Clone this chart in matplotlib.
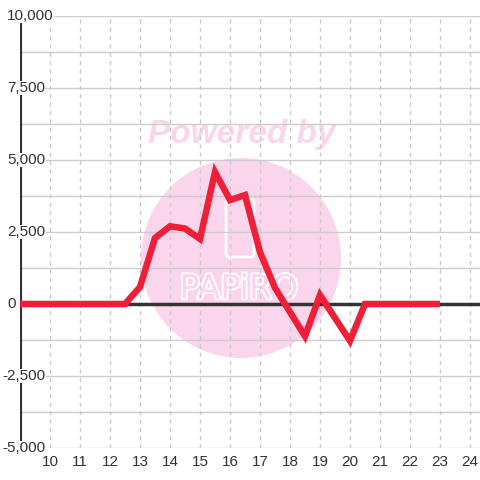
import matplotlib
matplotlib.use("Agg")
import matplotlib.pyplot as plt
from matplotlib.patches import Circle, FancyBboxPatch
import matplotlib.patheffects as pe

plt.rcParams['font.family'] = ['Liberation Sans', 'DejaVu Sans']

# Data
hours = [9, 12.5, 13, 13.5, 14, 14.5, 15, 15.5, 16, 16.5, 17, 17.5, 18.5, 19, 20, 20.5, 23]
values = [0, 0, 590, 2290, 2700, 2620, 2260, 4580, 3610, 3780, 1800, 560, -1120, 310, -1280, 0, 0]

x_ticks = list(range(10, 25))
y_ticks = [-5000, -2500, 0, 2500, 5000, 7500, 10000]
y_grid = [-3750, -1250, 1250, 3750, 6250, 8750]

line_color = '#EE1F36'
pink = '#FBD5EC'
text_color = '#333333'

fig = plt.figure(figsize=(4.8, 4.8), dpi=100)
ax = fig.add_axes([20 / 480, 32 / 480, 460 / 480, 432 / 480])
ax.set_xlim(9, 9 + 460 / 30)
ax.set_ylim(-5000, 10000)
for s in ax.spines.values():
    s.set_visible(False)

# Watermark (behind the grid)
ax.add_patch(Circle((241 / 480, 1 - 258 / 480), 100 / 480, transform=fig.transFigure,
                    facecolor=pink, edgecolor='none', zorder=0.2, clip_on=False))
ax.add_patch(FancyBboxPatch((226 / 480, 1 - 257 / 480), 28 / 480, 58 / 480,
                            boxstyle='round,pad=0,rounding_size=0.008',
                            transform=fig.transFigure, facecolor='none',
                            edgecolor='white', linewidth=2, zorder=0.3, clip_on=False))
ax.text(239 / 480, 1 - 289 / 480, 'PAPiRO', color=pink, fontsize=24, ha='center', va='center',
        family='DejaVu Sans', transform=fig.transFigure, zorder=0.3,
        path_effects=[pe.Stroke(linewidth=2.5, foreground='white'), pe.Normal()])
ax.text(242 / 480, 1 - 134 / 480, 'Powered by', color=pink, fontsize=24, ha='center',
        va='center', fontweight='bold', fontstyle='italic', transform=fig.transFigure, zorder=0.3)

# Gridlines
for y in y_ticks + y_grid:
    ax.axhline(y, color='#cccccc', linewidth=1, zorder=1)
for x in x_ticks:
    ax.axvline(x, color='#cccccc', linewidth=1, linestyle=(0, (3, 3)), zorder=1)

# zero line and left axis line
ax.axhline(0, color='#333333', linewidth=2.5, zorder=2)
ax.plot([9, 9], [-5000, 10000], color='#333333', linewidth=3, solid_capstyle='butt', zorder=2)

ax.plot(hours, values, color=line_color, linewidth=4.7, solid_joinstyle='miter',
        solid_capstyle='butt', zorder=3)

ax.set_xticks(x_ticks)
ax.set_xticklabels([str(x) for x in x_ticks], fontsize=11, color=text_color)
ax.tick_params(axis='x', length=0, pad=5)
ax.set_yticks([])
for y in y_ticks:
    left_px = 2 if y < 0 else 7
    ax.text(9 + (left_px - 20) / 30, y, f'{y:,}', ha='left', va='center', fontsize=11,
            color=text_color, bbox=dict(facecolor='white', edgecolor='none', pad=0.3),
            zorder=4, clip_on=False)

fig.savefig('out.png', dpi=100)
